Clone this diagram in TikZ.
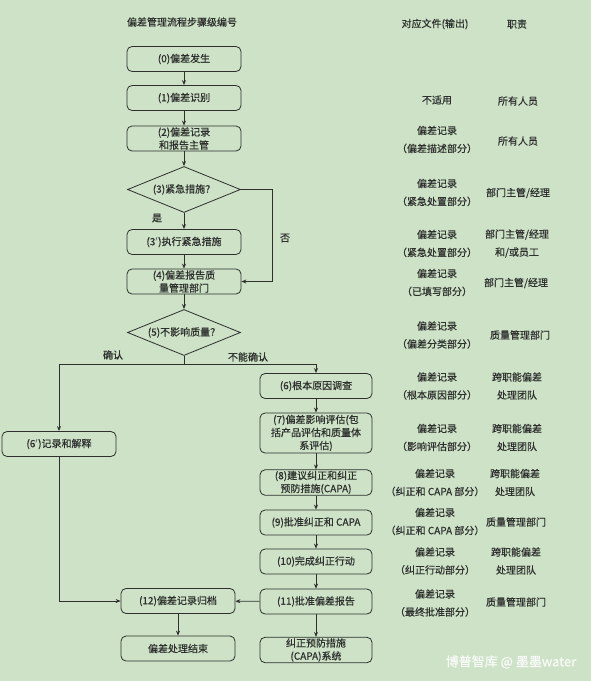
\documentclass[tikz,border=0pt]{standalone}
\usepackage{fontspec}
\setmainfont{Noto Sans CJK SC}[FakeBold=0.5]
\usetikzlibrary{arrows.meta,shapes.geometric}
\definecolor{bgc}{RGB}{205,226,199}
\definecolor{ink}{RGB}{45,48,45}
\tikzset{
  base/.style={text=ink,font=\fontsize{10}{13}\selectfont,align=center,inner sep=1pt},
  box/.style={base,draw=ink,line width=0.8pt,rounded corners=5pt,minimum width=114pt,minimum height=25pt},
  rbox/.style={box,minimum width=112pt},
  dia/.style={base,draw=ink,line width=0.8pt,diamond,aspect=2.45,minimum width=113pt,minimum height=46pt,inner sep=0pt},
  info/.style={base,font=\fontsize{10}{18}\selectfont},
  lbl/.style={base},
  conn/.style={draw=ink,line width=0.8pt},
  arr/.style={conn,-{Stealth[length=5pt,width=4pt]}}
}
\begin{document}
\begin{tikzpicture}[x=1pt,y=-1pt]
\path[fill=bgc] (0,0) rectangle (591,681);
\useasboundingbox (0,0) rectangle (591,681);

% headers
\node[lbl] (h1) at (182,22) {偏差管理流程步骤级编号};
\node[lbl] (h2) at (435,24) {对应文件(输出)};
\node[lbl] (h3) at (517,24) {职责};

% main column
\node[box] (n0) at (184,59) {(0)偏差发生};
\node[box] (n1) at (184,98) {(1)偏差识别};
\node[box] (n2) at (184,138.5) {(2)偏差记录\\和报告主管};
\node[dia] (d3) at (184,189.5) {(3)紧急措施？};
\node[box] (n3p) at (184,242) {(3$'$)执行紧急措施};
\node[box] (n4) at (184,281.5) {(4)偏差报告质\\量管理部门};
\node[dia] (d5) at (184,332.5) {(5)不影响质量？};
\coordinate (no) at (272,189.5);
\coordinate (j5) at (184,364);

\node[box] (n6p) at (59,444) {(6$'$)记录和解释};

\node[rbox] (n6) at (316,386) {(6)根本原因调查};
\node[rbox,minimum height=40pt] (n7) at (316,433) {(7)偏差影响评估(包\\括产品评估和质量体\\系评估)};
\node[rbox] (n8) at (316,482.5) {(8)建议纠正和纠正\\预防措施(CAPA)};
\node[rbox] (n9) at (316,522.5) {(9)批准纠正和 CAPA};
\node[rbox] (n10) at (316,561.5) {(10)完成纠正行动};
\node[rbox] (n11) at (316,601.5) {(11)批准偏差报告};
\node[rbox] (capa) at (316,650) {纠正预防措施\\(CAPA)系统};

\node[box] (n12) at (178,601) {(12)偏差记录归档};
\node[box] (nend) at (178,648.5) {偏差处理结束};

% connectors
\draw[arr] (n0) -- (n1);
\draw[arr] (n1) -- (n2);
\draw[arr] (n2) -- (d3);
\draw[arr] (d3) -- (n3p);
\draw[arr] (n3p) -- (n4);
\draw[arr] (d3.east) -- (no) |- (n4.east);
\draw[arr] (n4) -- (d5);
\draw[conn] (d5.south) -- (j5);
\draw[arr] (j5) -| (n6p.north);
\draw[arr] (j5) -| (n6.north);
\draw[arr] (n6) -- (n7);
\draw[arr] (n7) -- (n8);
\draw[arr] (n8) -- (n9);
\draw[arr] (n9) -- (n10);
\draw[arr] (n10) -- (n11);
\draw[arr] (n11) -- (n12);
\draw[arr] (n11) -- (capa);
\draw[arr] (n12) -- (nend);
\draw[arr] (n6p.south) |- (n12.west);

% branch labels
\node[lbl] (yes) at (157,218) {是};
\node[lbl] (nolbl) at (285,238) {否};
\node[lbl] (ok) at (113,355) {确认};
\node[lbl] (nok) at (248,357) {不能确认};

% documents column
\node[info] (f1) at (437,100) {不适用};
\node[info] (f2) at (437,139.5) {偏差记录\\（偏差描述部分）};
\node[info] (f3) at (437,192.5) {偏差记录\\（紧急处置部分）};
\node[info] (f4) at (437,243.5) {偏差记录\\（紧急处置部分）};
\node[info] (f5) at (437,282.5) {偏差记录\\（已填写部分）};
\node[info] (f6) at (437,335) {偏差记录\\（偏差分类部分）};
\node[info] (f7) at (437,386) {偏差记录\\（根本原因部分）};
\node[info] (f8) at (437,437.5) {偏差记录\\（影响评估部分）};
\node[info] (f9) at (435,482.5) {偏差记录\\（纠正和 CAPA 部分）};
\node[info] (f10) at (435,521.5) {偏差记录\\（纠正和 CAPA 部分）};
\node[info] (f11) at (435,561) {偏差记录\\（纠正行动部分）};
\node[info] (f12) at (435,603) {偏差记录\\（最终批准部分）};

% responsibility column
\node[info] (r1) at (518,101) {所有人员};
\node[info] (r2) at (518,141) {所有人员};
\node[info] (r3) at (518,193) {部门主管/经理};
\node[info] (r4) at (517,243.5) {部门主管/经理\\和/或员工};
\node[info] (r5) at (516,283) {部门主管/经理};
\node[info] (r6) at (520,335) {质量管理部门};
\node[info] (r7) at (517,386) {跨职能偏差\\处理团队};
\node[info] (r8) at (517,437.5) {跨职能偏差\\处理团队};
\node[info] (r9) at (515,482.5) {跨职能偏差\\处理团队};
\node[info] (r10) at (516,522) {质量管理部门};
\node[info] (r11) at (516,561) {跨职能偏差\\处理团队};
\node[info] (r12) at (516,602) {质量管理部门};

% watermark
\node[text=white,opacity=0.85,font=\fontsize{13}{15}\selectfont,inner sep=0pt] (wm) at (511,662) {博普智库 @ 墨墨water};
\end{tikzpicture}
\end{document}
